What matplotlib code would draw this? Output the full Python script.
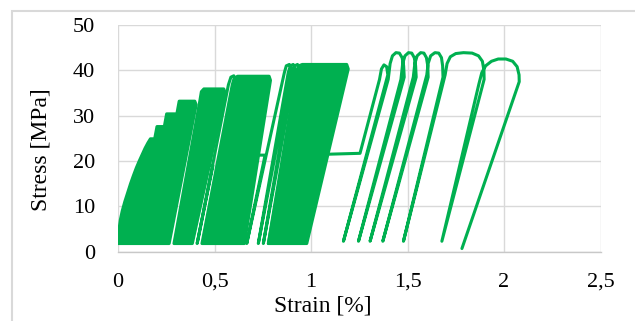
import matplotlib
matplotlib.use('Agg')
import matplotlib.pyplot as plt
from matplotlib.patches import Rectangle

plt.rcParams['font.family'] = ['Liberation Serif', 'DejaVu Serif']

green = '#00B050'
grey = '#D9D9D9'

# dense fatigue blocks: outline of the overlapping loops (strain %, stress MPa)
block1_strain = [0.0, 0.004, 0.012, 0.022, 0.035, 0.05, 0.065, 0.08, 0.095, 0.11, 0.125, 0.14,
                 0.155, 0.168, 0.19, 0.202, 0.24, 0.252, 0.305, 0.317, 0.398, 0.405, 0.265, 0.0]
block1_stress = [1.8, 4.5, 7.0, 9.0, 11.0, 13.0, 15.0, 16.8, 18.5, 20.0, 21.4, 22.8,
                 24.0, 24.9, 24.9, 27.6, 27.6, 30.4, 30.4, 33.2, 33.2, 32.4, 1.8, 1.8]

block2_strain = [0.29, 0.425, 0.432, 0.445, 0.548, 0.556, 0.385, 0.29]
block2_stress = [1.8, 33.5, 35.3, 35.9, 35.9, 35.0, 1.8, 1.8]

block3_strain = [0.435, 0.592, 0.602, 0.62, 0.783, 0.79, 0.655, 0.435]
block3_stress = [1.8, 36.8, 38.3, 38.7, 38.7, 37.8, 1.8, 1.8]

block4_strain = [0.779, 0.925, 0.937, 0.955, 1.185, 1.193, 0.978, 0.779]
block4_stress = [1.8, 39.5, 41.0, 41.3, 41.3, 40.3, 1.8, 1.8]

# creep hold at ~20 MPa between blocks 2 and 3, then first loading of block 3
trans23_strain = [0.474, 0.492, 0.41, 0.572, 0.585, 0.60]
trans23_stress = [19.0, 19.0, 1.8, 36.8, 38.5, 38.8]

# creep hold between blocks 3 and 4, then the first separate loops of block 4
trans34_strain = [0.728, 0.762, 0.667, 0.862, 0.872, 0.888, 0.9, 0.727,
                  0.882, 0.893, 0.908, 0.92, 0.753, 0.905, 0.916, 0.93, 0.94, 0.779]
trans34_stress = [21.3, 21.3, 1.8, 39.5, 41.0, 41.3, 40.3, 1.8,
                  39.5, 41.0, 41.3, 40.3, 1.8, 39.5, 41.0, 41.3, 40.3, 1.8]

# creep hold after block 4 and the final large loops up to failure
final_strain = [1.088, 1.254,
                1.355, 1.365, 1.378, 1.392, 1.398, 1.168,
                1.40, 1.41, 1.422, 1.44, 1.458, 1.472, 1.48, 1.483, 1.246,
                1.466, 1.475, 1.487, 1.505, 1.522, 1.535, 1.542, 1.545, 1.306,
                1.53, 1.538, 1.55, 1.568, 1.585, 1.598, 1.605, 1.607, 1.372,
                1.60, 1.607, 1.62, 1.642, 1.662, 1.676, 1.682, 1.684, 1.479,
                1.695, 1.705, 1.722, 1.75, 1.79, 1.835, 1.868, 1.888, 1.896, 1.897, 1.678,
                1.87, 1.885, 1.905, 1.935, 1.97, 2.01, 2.045, 2.068, 2.078, 2.079, 1.782]
final_stress = [21.5, 21.7,
                38.0, 40.3, 41.2, 40.8, 39.0, 2.3,
                38.0, 41.5, 43.2, 43.9, 43.8, 42.8, 41.0, 38.5, 2.3,
                38.0, 41.5, 43.2, 43.9, 43.8, 42.8, 41.0, 38.5, 2.3,
                38.5, 41.5, 43.2, 43.9, 43.8, 42.8, 41.0, 38.5, 2.3,
                39.0, 41.5, 43.2, 43.9, 43.8, 42.8, 41.0, 38.5, 2.3,
                39.0, 41.5, 43.0, 43.7, 43.9, 43.8, 43.2, 42.0, 40.0, 38.0, 2.3,
                37.0, 39.5, 41.0, 42.0, 42.5, 42.5, 42.0, 40.8, 39.0, 37.5, 0.7]

x_ticks = [0, 0.5, 1, 1.5, 2, 2.5]
x_labels = ['0', '0,5', '1', '1,5', '2', '2,5']
y_ticks = [0, 10, 20, 30, 40, 50]

fig = plt.figure(figsize=(6.35, 3.21), dpi=100)
ax = fig.add_axes([118 / 635, 1 - 251.7 / 321, 482.5 / 635, 226.7 / 321])

lw = 2.2
for xs, ys in [(block1_strain, block1_stress), (block2_strain, block2_stress),
               (block3_strain, block3_stress), (block4_strain, block4_stress)]:
    p = ax.fill(xs, ys, facecolor=green, edgecolor=green, linewidth=lw)[0]
    p.set_joinstyle('round')
for xs, ys in [(trans23_strain, trans23_stress), (trans34_strain, trans34_stress),
               (final_strain, final_stress)]:
    ax.plot(xs, ys, color=green, linewidth=lw, solid_joinstyle='round',
            solid_capstyle='round')

ax.set_xlim(0, 2.5)
ax.set_ylim(0, 50)
ax.set_xticks(x_ticks)
ax.set_xticklabels(x_labels)
ax.set_yticks(y_ticks)
ax.tick_params(axis='x', length=0, pad=15, labelsize=16)
ax.tick_params(axis='y', length=0, pad=16.5, labelsize=16)
ax.grid(True, color=grey, linewidth=1.0)
ax.set_axisbelow(True)
for s in ['top', 'right', 'left']:
    ax.spines[s].set_visible(False)
ax.spines['bottom'].set_color('#C8C8C8')
ax.spines['bottom'].set_linewidth(1.0)

ax.set_xlabel('Strain [%]', fontsize=17)
ax.set_ylabel('Stress [MPa]', fontsize=17)
ax.xaxis.set_label_coords(0.424, -0.195)
ax.yaxis.set_label_coords(-0.137, 0.449)

fig.patches.append(Rectangle((12 / 635, -0.1), 2.0, 1 - 11 / 321 + 0.1, transform=fig.transFigure,
                             fill=False, edgecolor=grey, linewidth=1.5))

fig.savefig('out.png', dpi=100, facecolor='w')
